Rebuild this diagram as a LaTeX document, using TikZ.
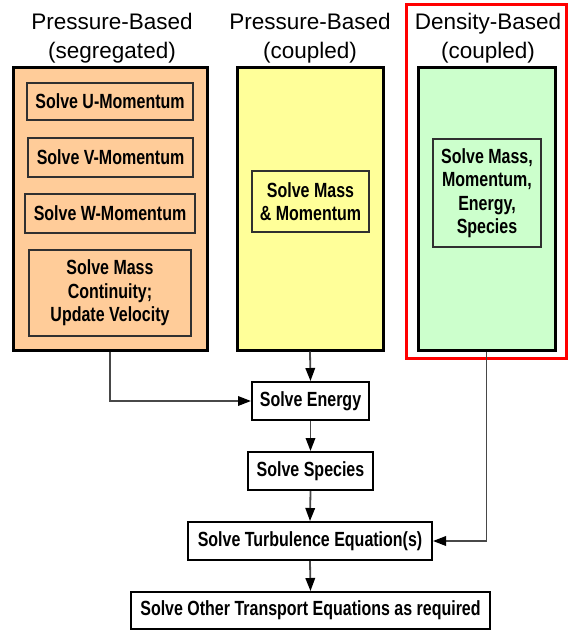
\documentclass[tikz,border=0pt]{standalone}
\usepackage{fontspec}
\setmainfont{Liberation Sans}
\newfontfamily\boxfont[FakeStretch=0.78]{Liberation Sans}
\usetikzlibrary{arrows.meta}
\definecolor{segfill}{HTML}{FFCC99}
\definecolor{coupfill}{HTML}{FFFF99}
\definecolor{densfill}{HTML}{CCFFCC}
\definecolor{innerline}{HTML}{303030}
\definecolor{connline}{HTML}{484848}
\tikzset{
  panel/.style={draw=black, line width=3pt, inner sep=0pt},
  innerbox/.style={draw=innerline, line width=2pt, inner sep=0pt, align=center,
    font=\boxfont\bfseries\fontsize{20.5}{23.5}\selectfont},
  flowbox/.style={draw=black, line width=2pt, fill=white, inner sep=0pt, align=center,
    font=\boxfont\bfseries\fontsize{20.5}{23.5}\selectfont},
  titletext/.style={align=center, inner sep=0pt, font=\fontsize{22.5}{28.5}\selectfont},
  conn/.style={draw=connline, line width=1.8pt, -{Triangle[length=13pt,width=9.5pt,color=black]}},
}
\begin{document}
\begin{tikzpicture}[x=1pt,y=-1pt]
\useasboundingbox (0,0) rectangle (570,630);
% titles
\node[titletext] (t1) at (112,38) {Pressure-Based\\(segregated)};
\node[titletext] (t2) at (310,38) {Pressure-Based\\(coupled)};
\node[titletext] (t3) at (488,38) {Density-Based\\(coupled)};
% red highlight
\node[draw=red, line width=3pt, minimum width=160, minimum height=354, inner sep=0pt] (hl) at (486,181) {};
% panels
\node[panel, fill=segfill, minimum width=194, minimum height=283] (seg) at (110,208.5) {};
\node[panel, fill=coupfill, minimum width=146, minimum height=283] (cpl) at (310,208.5) {};
\node[panel, fill=densfill, minimum width=137, minimum height=283] (den) at (486.5,208.5) {};
% inner boxes
\node[innerbox, minimum width=166, minimum height=37] (u) at (110,101.5) {Solve U-Momentum};
\node[innerbox, minimum width=165, minimum height=39] (v) at (110.5,157.5) {Solve V-Momentum};
\node[innerbox, minimum width=170, minimum height=39] (w) at (110,213.5) {Solve W-Momentum};
\node[innerbox, minimum width=162, minimum height=86] (mc) at (110,293) {Solve Mass\\Continuity;\\Update Velocity};
\node[innerbox, minimum width=117, minimum height=61] (mm) at (310.5,201.5) {Solve Mass\\\& Momentum};
\node[innerbox, minimum width=108, minimum height=108] (all) at (487,193) {Solve Mass,\\Momentum,\\Energy,\\Species};
% flow boxes
\node[flowbox, minimum width=117, minimum height=38] (en) at (310.5,401) {Solve Energy};
\node[flowbox, minimum width=125, minimum height=38] (sp) at (310.5,471) {Solve Species};
\node[flowbox, minimum width=244, minimum height=38] (tu) at (310,541) {Solve Turbulence Equation(s)};
\node[flowbox, minimum width=359, minimum height=37] (ot) at (310.5,610.5) {Solve Other Transport Equations as required};
% connectors
\draw[conn] (seg.south) |- (en.west);
\draw[conn] (cpl.south) -- (en.north);
\draw[conn] (en.south) -- (sp.north);
\draw[conn] (sp.south) -- (tu.north);
\draw[conn] (tu.south) -- (ot.north);
\draw[conn] (den.south) |- (tu.east);
\end{tikzpicture}
\end{document}
